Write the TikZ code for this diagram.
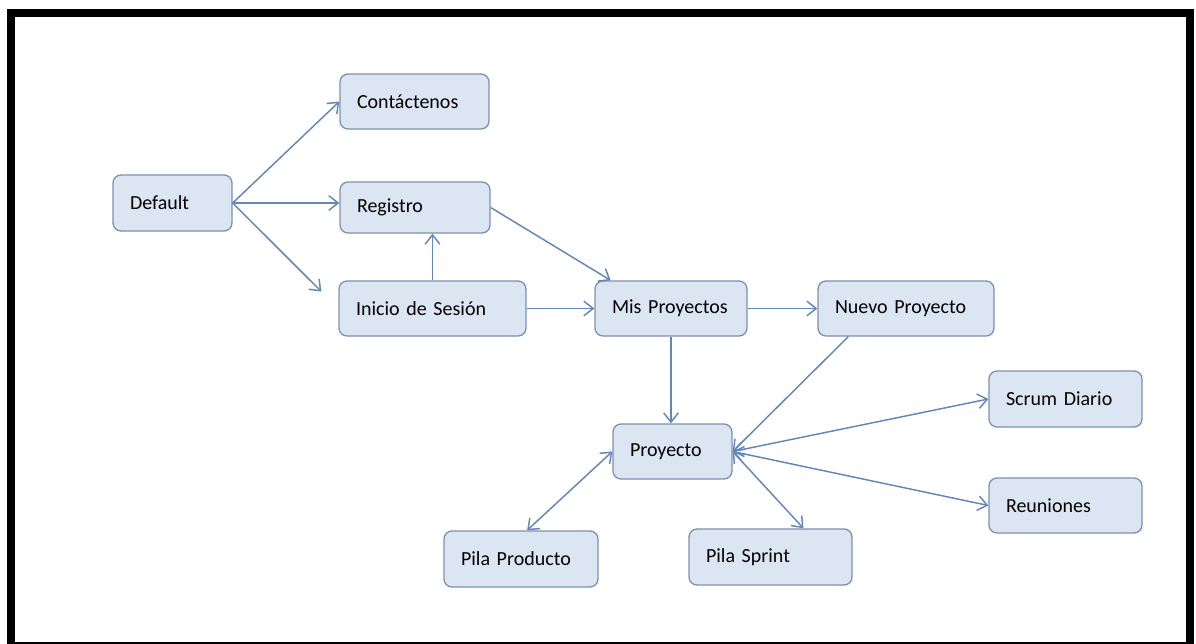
\documentclass[tikz,border=0pt]{standalone}
\usepackage{fontspec}
\setmainfont{Carlito}[WordSpace=0.7]
\usetikzlibrary{arrows.meta}
\definecolor{boxfill}{HTML}{DCE6F2}
\definecolor{boxline}{HTML}{7D91AF}
\definecolor{linecol}{HTML}{6587B8}
\tikzset{
  box/.style={draw=boxline, fill=boxfill, line width=1pt, rounded corners=6pt,
    align=left, inner xsep=12.75pt, inner ysep=0pt,
    font=\fontsize{15}{18}\selectfont},
  conn/.style={draw=linecol, line width=1.1pt, -{Straight Barb[length=7pt,width=11pt]}},
  both/.style={draw=linecol, line width=1.1pt, {Straight Barb[length=7pt,width=11pt]}-{Straight Barb[length=7pt,width=11pt]}},
}
\begin{document}
\begin{tikzpicture}[x=0.75pt,y=-0.75pt]
\useasboundingbox (0,0) rectangle (1196,643);
\fill[white] (0,0) rectangle (1196,643);
% outer frame
\draw[line width=6pt] (11,13) rectangle (1189.5,646);

% pages
\node[box, text width=63.75pt, minimum height=42pt]    (default) at (172.5,203)   {Default};
\node[box, text width=86.25pt, minimum height=41.25pt] (cont)    at (414.5,101.5) {Contáctenos};
\node[box, text width=87pt,    minimum height=38.25pt] (reg)     at (415,207.5)   {Registro};
\node[box, text width=114.75pt,minimum height=41.25pt] (inicio)  at (432.5,308.5) {\mbox{Inicio de Sesión}};
\node[box, text width=88.5pt,  minimum height=41.25pt] (mis)     at (671,308.5)   {\mbox{Mis Proyectos}};
\node[box, text width=106.5pt, minimum height=41.25pt] (nuevo)   at (906,308.5)   {\mbox{Nuevo Proyecto}};
\node[box, text width=63.75pt, minimum height=41.25pt] (proy)    at (672.5,451.5) {Proyecto};
\node[box, text width=90pt,    minimum height=42pt]    (prod)    at (521,559)     {\mbox{Pila Producto}};
\node[box, text width=96.75pt, minimum height=42pt]    (sprint)  at (770.5,557)   {\mbox{Pila Sprint}};
\node[box, text width=89.25pt, minimum height=42pt]    (scrum)   at (1065.5,399)  {\mbox{Scrum Diario}};
\node[box, text width=89.25pt, minimum height=41.25pt] (reun)    at (1065.5,505.5){Reuniones};

% navigation links
\draw[conn] (default.east) -- (cont.west);
\draw[conn] (default.east) -- (default.east -| reg.west);
\draw[conn, shorten >=18pt] (default.east) -- (inicio.west);
\draw[conn] (inicio.north) -- (inicio.north |- reg.south);
\draw[conn] (reg.east) -- (mis.155);
\draw[conn] (inicio.east) -- (mis.west);
\draw[conn] (mis.east) -- (nuevo.west);
\draw[conn] (mis.south) -- (mis.south |- proy.north);
\draw[conn] (nuevo.206.6) -- (proy.east);
\draw[both] (proy.east) -- (scrum.west);
\draw[both] (proy.east) -- (reun.west);
\draw[both] (proy.east) -- (sprint.41);
\draw[both] (proy.west) -- (prod.78);
\end{tikzpicture}
\end{document}
